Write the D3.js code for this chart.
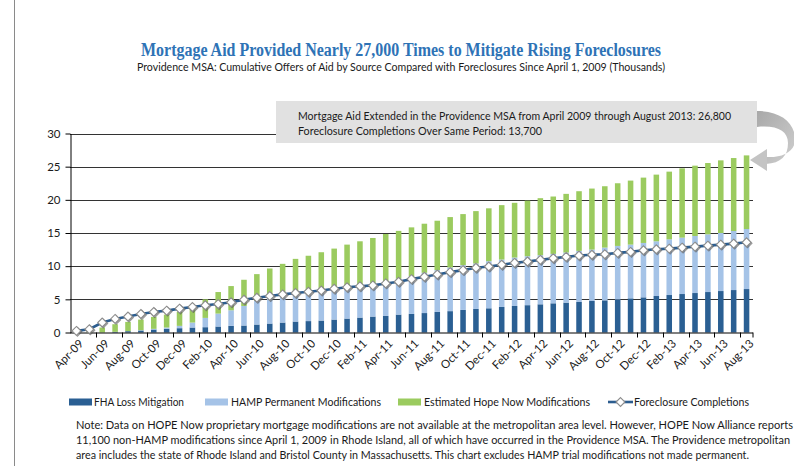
<!DOCTYPE html>
<html>
<head>
<meta charset="utf-8">
<script src="https://cdn.jsdelivr.net/npm/d3@7"></script>
<style>
  body { margin: 0; background: #fff; }
  svg { display: block; }
  text { font-family: Lato, "Open Sans", sans-serif; fill: #1a1a1a; }
</style>
</head>
<body>
<div id="chart"></div>
<script>
// Monthly cumulative values, thousands
const months = ["Apr-09","May-09","Jun-09","Jul-09","Aug-09","Sep-09","Oct-09","Nov-09","Dec-09",
  "Jan-10","Feb-10","Mar-10","Apr-10","May-10","Jun-10","Jul-10","Aug-10","Sep-10","Oct-10","Nov-10","Dec-10",
  "Jan-11","Feb-11","Mar-11","Apr-11","May-11","Jun-11","Jul-11","Aug-11","Sep-11","Oct-11","Nov-11","Dec-11",
  "Jan-12","Feb-12","Mar-12","Apr-12","May-12","Jun-12","Jul-12","Aug-12","Sep-12","Oct-12","Nov-12","Dec-12",
  "Jan-13","Feb-13","Mar-13","Apr-13","May-13","Jun-13","Jul-13","Aug-13"];

const fha = [0,0,0,0.1,0.2,0.3,0.45,0.55,0.65,0.75,0.8,0.9,1.0,1.05,1.2,1.35,1.5,1.65,1.72,1.8,1.95,
  2.1,2.25,2.4,2.5,2.7,2.8,2.93,3.1,3.22,3.4,3.55,3.65,3.85,4.0,4.12,4.25,4.4,4.5,4.6,4.75,4.85,5.0,
  5.15,5.3,5.5,5.65,5.8,5.95,6.1,6.25,6.4,6.55];

const hamp = [0,0,0,0,0,0.05,0.1,0.2,0.35,0.75,1.4,1.95,2.35,2.95,3.55,3.9,4.1,4.2,4.33,4.5,4.6,
  4.75,4.9,4.95,5.25,5.4,5.7,6.07,6.3,6.58,6.75,6.85,7.1,7.15,7.3,7.38,7.4,7.45,7.55,7.7,7.75,7.95,
  8.05,8.1,8.2,8.25,8.4,8.5,8.6,8.7,8.75,8.9,9.05];

const hopeNow = [0,0.15,0.75,1.15,1.4,1.6,1.8,1.95,2.1,2.1,2.8,3.25,3.65,3.95,4.05,4.4,4.75,5.25,
  5.52,5.8,6.1,6.4,6.6,6.9,7.1,7.22,7.35,7.4,7.45,7.6,7.7,7.9,7.97,8.2,8.25,8.38,8.6,8.65,8.85,9.0,
  9.2,9.25,9.45,9.65,9.85,10.05,10.2,10.45,10.6,10.75,10.95,11.0,11.1];

const foreclosures = [0.25,0.5,1.5,2.05,2.4,2.8,3.1,3.3,3.6,3.85,4.1,4.3,4.55,4.95,5.25,5.5,5.75,
  5.95,6.15,6.33,6.6,6.83,6.98,7.1,7.4,7.65,8.05,8.4,8.75,9.1,9.4,9.75,9.95,10.22,10.5,10.7,10.95,
  11.2,11.4,11.6,11.72,11.8,12.0,12.15,12.4,12.55,12.65,12.8,12.95,13.1,13.25,13.4,13.6];

const yTicks = [0, 5, 10, 15, 20, 25, 30];
const xLabels = months.filter((d, i) => i % 2 === 0);

const seriesNames = ["FHA Loss Mitigation", "HAMP Permanent Modifications", "Estimated Hope Now Modifications"];
const lineName = "Foreclosure Completions";

const title = "Mortgage Aid Provided Nearly 27,000 Times to Mitigate Rising Foreclosures";
const subtitle = "Providence MSA: Cumulative Offers of Aid by Source Compared with Foreclosures Since April 1, 2009 (Thousands)";
const calloutLines = [
  "Mortgage Aid Extended in the Providence MSA from April 2009 through August 2013: 26,800",
  "Foreclosure Completions Over Same Period: 13,700"
];
const noteLines = [
  "Note: Data on HOPE Now proprietary mortgage modifications are not available at the metropolitan area level. However, HOPE Now Alliance reports",
  "11,100 non-HAMP modifications since April 1, 2009 in Rhode Island, all of which have occurred in the Providence MSA. The Providence metropolitan",
  "area includes the state of Rhode Island and Bristol County in Massachusetts. This chart excludes HAMP trial modifications not made permanent."
];

const colors = ["#2a5f93", "#a5c3e7", "#9bcb5f"];
const lineColor = "#2c5d8f";

const W = 794, H = 466;
const plot = { left: 70, right: 753, top: 133.5, bottom: 332.5 };

const svg = d3.select("#chart").append("svg").attr("width", W).attr("height", H);

const defs = svg.append("defs");
defs.append("filter").attr("id", "shadow").attr("x", "-50%").attr("y", "-50%").attr("width", "200%").attr("height", "200%")
  .append("feDropShadow").attr("dx", 1).attr("dy", 1).attr("stdDeviation", 0.7)
  .attr("flood-color", "#555").attr("flood-opacity", 0.6);
const grad = defs.append("linearGradient").attr("id", "arrowGrad")
  .attr("x1", "0").attr("y1", "0").attr("x2", "1").attr("y2", "1");
grad.append("stop").attr("offset", "0%").attr("stop-color", "#a8a8a8");
grad.append("stop").attr("offset", "100%").attr("stop-color", "#cfcfcf");

// page border on the left
svg.append("line").attr("x1", 14.5).attr("x2", 14.5).attr("y1", 0).attr("y2", H)
  .attr("stroke", "#8a8a8a").attr("stroke-width", 1);

// titles
svg.append("text").attr("x", 401).attr("y", 56).attr("text-anchor", "middle")
  .attr("textLength", 520).attr("lengthAdjust", "spacingAndGlyphs")
  .style("font-family", "'Liberation Serif', 'DejaVu Serif', serif")
  .style("font-weight", "bold").style("font-size", "18px").style("fill", "#2e73b6")
  .text(title);
svg.append("text").attr("x", 401).attr("y", 71).attr("text-anchor", "middle")
  .attr("textLength", 528).attr("lengthAdjust", "spacingAndGlyphs")
  .style("font-size", "11px").text(subtitle);

// scales
const x = d3.scaleBand().domain(months).range([plot.left, plot.right]).paddingInner(0.57).paddingOuter(0.285);
const y = d3.scaleLinear().domain([0, 30]).range([plot.bottom, plot.top]);

// gridlines
svg.append("g").selectAll("line").data(yTicks.filter(d => d > 0)).join("line")
  .attr("x1", plot.left).attr("x2", plot.right)
  .attr("y1", d => Math.round(y(d)) + 0.5).attr("y2", d => Math.round(y(d)) + 0.5)
  .attr("stroke", "#333").attr("stroke-width", 1);

// stacked bars
const table = months.map((m, i) => ({ month: m, fha: fha[i], hamp: hamp[i], hope: hopeNow[i] }));
const stack = d3.stack().keys(["fha", "hamp", "hope"])(table);

svg.append("g").selectAll("g").data(stack).join("g")
  .attr("fill", (d, i) => colors[i])
  .selectAll("rect").data(d => d).join("rect")
  .attr("x", d => x(d.data.month))
  .attr("width", x.bandwidth())
  .attr("y", d => y(d[1]))
  .attr("height", d => Math.max(0, y(d[0]) - y(d[1])));

// axes
const yAxis = svg.append("g").attr("transform", `translate(${plot.left + 0.5},0)`)
  .call(d3.axisLeft(y).tickValues(yTicks).tickSize(5).tickPadding(5).tickSizeOuter(0));
yAxis.select(".domain").attr("stroke", "#000");
yAxis.selectAll(".tick line").attr("stroke", "#000");
yAxis.selectAll("text").style("font-size", "11.5px").style("font-family", "Lato, sans-serif").attr("fill", "#1a1a1a");

const xAxis = svg.append("g").attr("transform", `translate(0,${plot.bottom})`)
  .call(d3.axisBottom(x).tickValues(xLabels).tickSize(0).tickPadding(0));
xAxis.select(".domain").attr("stroke", "#000").attr("d", `M${plot.left},0.5H${plot.right}`);
xAxis.selectAll(".tick text")
  .attr("text-anchor", "end")
  .attr("dy", "0.35em")
  .attr("transform", "translate(5,9) rotate(-45)")
  .style("font-size", "11.5px").style("font-family", "Lato, sans-serif").attr("fill", "#1a1a1a");

// x tick marks at category boundaries every two months
const gap = (x.step() - x.bandwidth()) / 2;
const tickMonths = months.filter((d, i) => i % 2 === 0 && i > 0);
svg.append("g").selectAll("line")
  .data(tickMonths.map(m => Math.round(x(m) - gap) + 0.5).concat([plot.right]))
  .join("line")
  .attr("x1", d => d).attr("x2", d => d)
  .attr("y1", plot.bottom).attr("y2", plot.bottom + 5)
  .attr("stroke", "#000");

// foreclosure line
const cx = m => x(m) + x.bandwidth() / 2;
const line = d3.line().x((d, i) => cx(months[i])).y(d => y(d));
svg.append("path").datum(foreclosures).attr("d", line)
  .attr("fill", "none").attr("stroke", lineColor).attr("stroke-width", 2.6);

const diamond = d3.symbol().type(d3.symbolDiamond2).size(50);
svg.append("g").selectAll("path").data(foreclosures).join("path")
  .attr("d", diamond)
  .attr("transform", (d, i) => `translate(${cx(months[i])},${y(d)})`)
  .attr("fill", "#fff").attr("stroke", "#8c8c8c").attr("stroke-width", 1.1)
  .attr("filter", "url(#shadow)");

// callout box
svg.append("rect").attr("x", 276).attr("y", 101).attr("width", 481).attr("height", 42)
  .attr("fill", "#e1e1e1");
svg.append("g").selectAll("text").data(calloutLines).join("text")
  .attr("x", 298).attr("y", (d, i) => 120 + i * 15)
  .attr("textLength", (d, i) => i === 0 ? 433 : 244).attr("lengthAdjust", "spacingAndGlyphs")
  .style("font-size", "11.5px").text(d => d);

// curved arrow
svg.append("path")
  .attr("d", "M757,111 C782,111 796,124 795,141 C794,152 782,158 766,157 L766,164 C781,163 788,156 788,143 C788,131 777,125 757,127 Z")
  .attr("fill", "url(#arrowGrad)");
svg.append("path").attr("d", "M750,160 L767,149 L767,171 Z").attr("fill", "#c4c4c4");

// legend
const legendY = 402;
const legendItems = [
  { x: 69, tx: 94, w: 90 },
  { x: 205, tx: 231, w: 150 },
  { x: 398, tx: 424, w: 166 }
];
const lg = svg.append("g");
legendItems.forEach((it, i) => {
  lg.append("rect").attr("x", it.x).attr("y", legendY - 3.5).attr("width", 23).attr("height", 7)
    .attr("fill", colors[i]);
  lg.append("text").attr("x", it.tx).attr("y", legendY + 4)
    .attr("textLength", it.w).attr("lengthAdjust", "spacingAndGlyphs")
    .style("font-size", "11px").text(seriesNames[i]);
});
lg.append("line").attr("x1", 608).attr("x2", 633).attr("y1", legendY).attr("y2", legendY)
  .attr("stroke", lineColor).attr("stroke-width", 2.6);
lg.append("path").attr("d", diamond).attr("transform", `translate(620.5,${legendY})`)
  .attr("fill", "#fff").attr("stroke", "#8c8c8c").attr("stroke-width", 1.1);
lg.append("text").attr("x", 634).attr("y", legendY + 4)
  .attr("textLength", 115).attr("lengthAdjust", "spacingAndGlyphs")
  .style("font-size", "11px").text(lineName);

// note
svg.append("g").selectAll("text").data(noteLines).join("text")
  .attr("x", 76).attr("y", (d, i) => 429 + i * 15)
  .attr("textLength", (d, i) => [717, 714, 673][i]).attr("lengthAdjust", "spacingAndGlyphs")
  .style("font-size", "11px").text(d => d);
</script>
</body>
</html>
